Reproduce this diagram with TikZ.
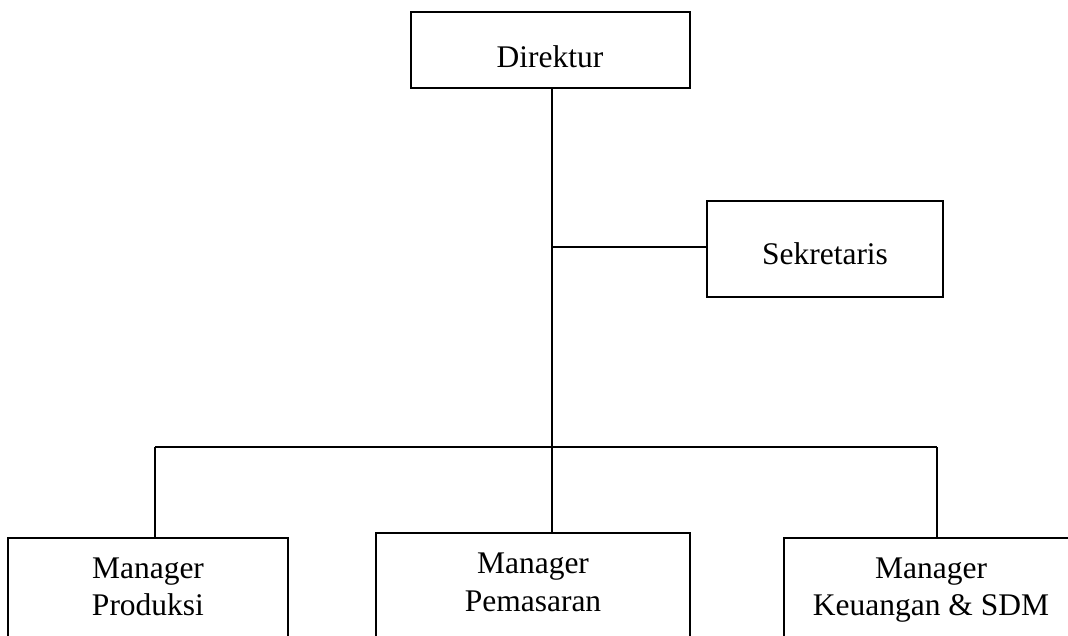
\documentclass[tikz,border=0pt]{standalone}
\usepackage{fontspec}
\setmainfont{Liberation Serif}
\begin{document}
\begin{tikzpicture}[x=1pt,y=-1pt,
  box/.style={draw, line width=1.8pt, rectangle, inner sep=0pt},
  lbl/.style={inner sep=0pt, anchor=base, font=\fontsize{31.5}{37}\selectfont},
  conn/.style={line width=1.8pt}]
\useasboundingbox (0,0) rectangle (1068,636);
\clip (0,0) rectangle (1068,636);
% boxes
\node[box, minimum width=279pt, minimum height=76pt] (dir) at (550.5,50) {};
\node[box, minimum width=236pt, minimum height=96pt] (sek) at (825,249) {};
\node[box, minimum width=280pt, minimum height=162pt] (prod) at (148,619) {};
\node[box, minimum width=314pt, minimum height=172pt] (pem) at (533,619) {};
\node[box, minimum width=294pt, minimum height=162pt] (keu) at (931,619) {};
% labels
\node[lbl] (dirt) at (550,68) {Direktur};
\node[lbl] (sekt) at (825,265) {Sekretaris};
\node[lbl] (prodt1) at (148,578) {Manager};
\node[lbl] (prodt2) at (148,615) {Produksi};
\node[lbl] (pemt1) at (533,573) {Manager};
\node[lbl] (pemt2) at (533,611) {Pemasaran};
\node[lbl] (keut1) at (931,578) {Manager};
\node[lbl] (keut2) at (931,615) {Keuangan \& SDM};
% connectors
\coordinate (j1) at (552,247);
\coordinate (jl) at (155,447);
\coordinate (jr) at (937,447);
\draw[conn] (dir.south -| j1) -- (pem.north -| j1);
\draw[conn] (j1) -- (sek.west |- j1);
\draw[conn] (jl) -- (jr);
\draw[conn] (jl) -- (prod.north -| jl);
\draw[conn] (jr) -- (keu.north -| jr);
\end{tikzpicture}
\end{document}
